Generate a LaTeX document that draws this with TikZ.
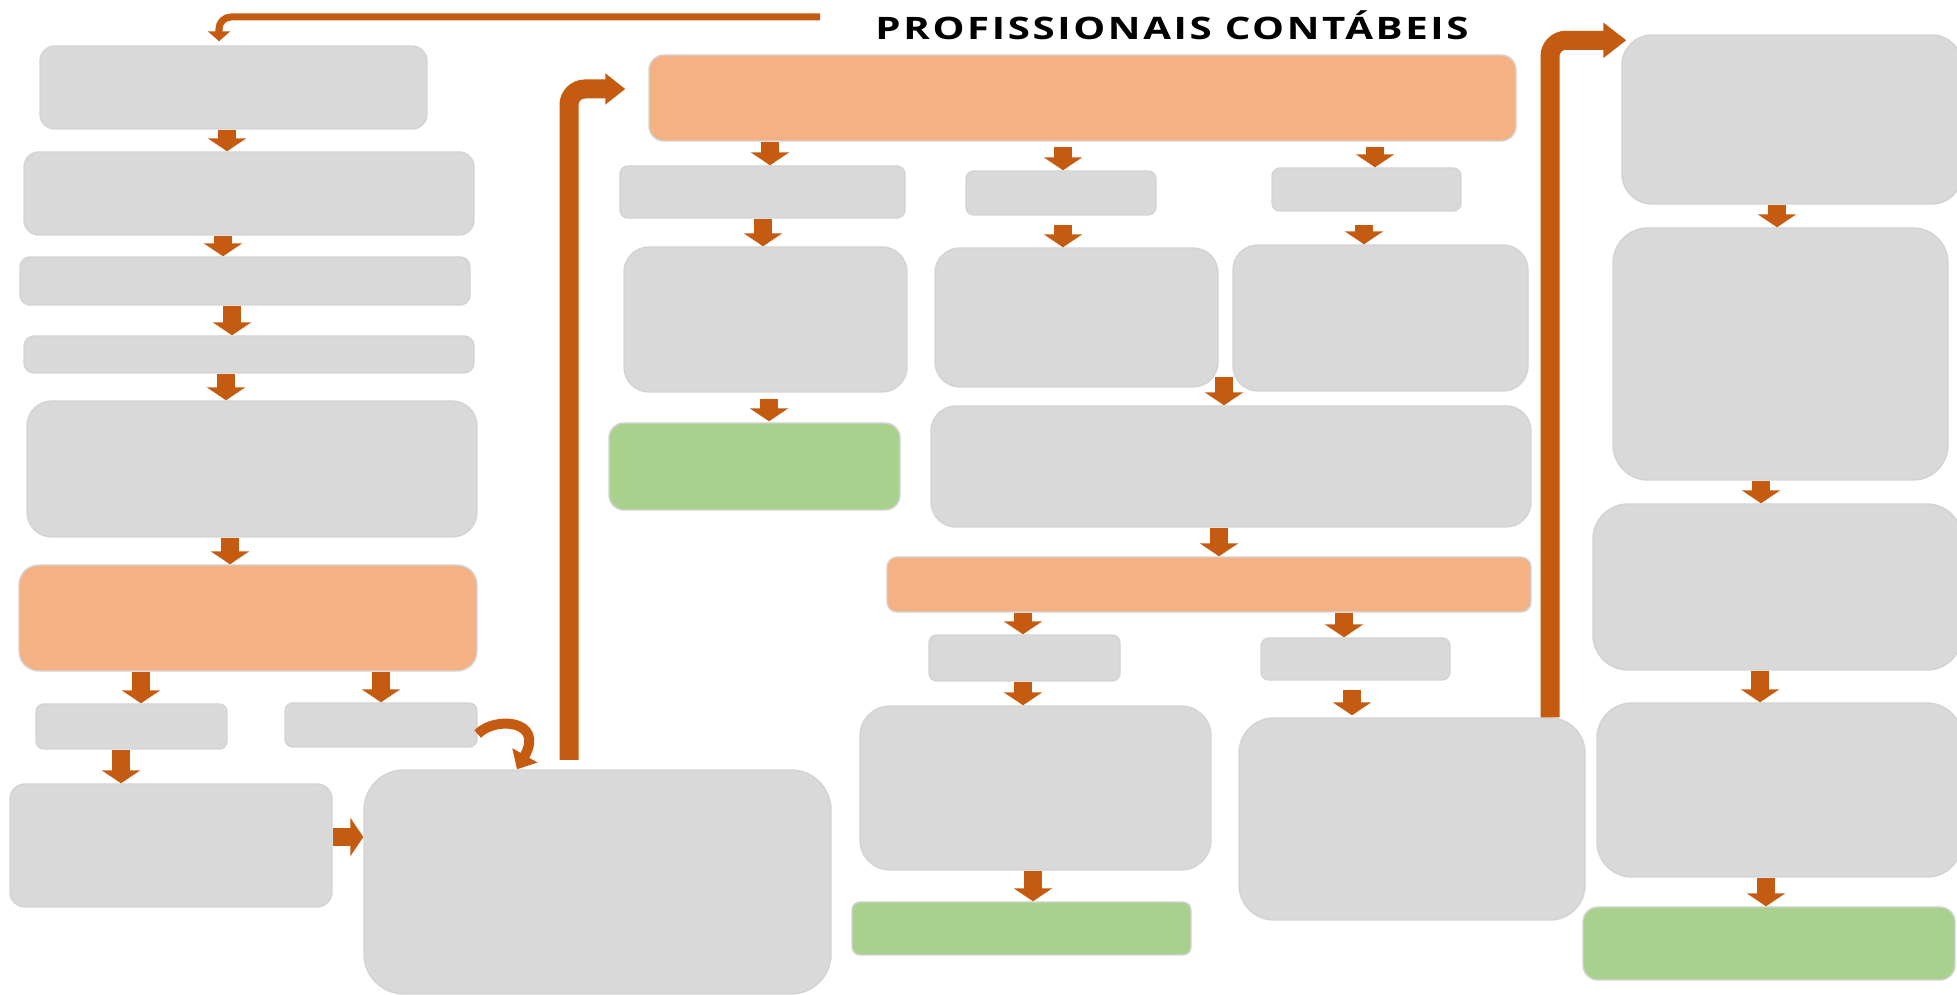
\documentclass[tikz,border=0pt]{standalone}
\usepackage{fontspec}
\setsansfont{Open Sans}
\usetikzlibrary{arrows.meta,fit}

\definecolor{boxgray}{HTML}{D9D9D9}
\definecolor{boxline}{HTML}{D3D3D3}
\definecolor{peach}{HTML}{F4B183}
\definecolor{leaf}{HTML}{A9D18E}
\definecolor{rust}{HTML}{C55A11}

\begin{document}
\begin{tikzpicture}[x=0.01cm,y=-0.01cm,
  gbox/.style={fill=boxgray,draw=boxline,line width=0.4pt,inner sep=0pt,rounded corners=#1},
  gbox/.default=0.1cm,
  obox/.style={gbox=#1,fill=peach},
  obox/.default=0.15cm,
  lbox/.style={gbox=#1,fill=leaf},
  lbox/.default=0.12cm,
  down/.style={draw=rust,line width=0.18cm,-{Triangle[width=0.38cm,length=0.13cm]}},
  bar/.style={draw=rust,line width=0.19cm,rounded corners=0.16cm},
  curl/.style={draw=rust,line width=0.1cm,-{Triangle[width=0.28cm,length=0.16cm]}}]
  \useasboundingbox (0,0) rectangle (1957,995);

  \node[anchor=base,inner sep=0pt,xscale=1.3,transform shape,
    font=\sffamily\bfseries\fontsize{8.8}{10}\selectfont\addfontfeatures{LetterSpace=6.5}]
    (title) at (1172,40) {PROFISSIONAIS CONTÁBEIS};

  % left column
  \node[gbox=0.15cm,fit={(40,46) (427,129)}] (l1) {};
  \node[gbox=0.15cm,fit={(24,152) (474,235)}] (l2) {};
  \node[gbox,fit={(20,257) (470,305)}] (l3) {};
  \node[gbox,fit={(24,336) (474,373)}] (l4) {};
  \node[gbox=0.25cm,fit={(27,401) (477,537)}] (l5) {};
  \node[obox=0.2cm,fit={(19,565) (477,671)}] (l6) {};
  \node[gbox=0.08cm,fit={(36,704) (227,749)}] (l7a) {};
  \node[gbox=0.08cm,fit={(285,703) (477,747)}] (l7b) {};
  \node[gbox=0.15cm,fit={(10,784) (332,907)}] (l8) {};
  \node[gbox=0.4cm,fit={(364,770) (831,994)}] (big) {};

  % middle block
  \node[obox,fit={(649,55) (1516,141)}] (ot) {};
  \node[gbox=0.08cm,fit={(620,166) (905,218)}] (m2a) {};
  \node[gbox=0.08cm,fit={(966,171) (1156,215)}] (m2b) {};
  \node[gbox=0.08cm,fit={(1272,168) (1461,211)}] (m2c) {};
  \node[gbox=0.25cm,fit={(624,247) (907,392)}] (m3a) {};
  \node[gbox=0.25cm,fit={(935,248) (1218,387)}] (m3b) {};
  \node[gbox=0.25cm,fit={(1233,245) (1528,391)}] (m3c) {};
  \node[lbox=0.15cm,fit={(609,423) (900,510)}] (mg1) {};
  \node[gbox=0.25cm,fit={(931,406) (1531,527)}] (mw) {};
  \node[obox=0.1cm,fit={(887,557) (1531,612)}] (o2) {};
  \node[gbox=0.08cm,fit={(929,635) (1120,681)}] (m5a) {};
  \node[gbox=0.08cm,fit={(1261,638) (1450,680)}] (m5b) {};
  \node[gbox=0.3cm,fit={(860,706) (1211,870)}] (m6a) {};
  \node[gbox=0.35cm,fit={(1239,718) (1585,920)}] (m6b) {};
  \node[lbox=0.08cm,fit={(852,902) (1191,955)}] (mg2) {};

  % right column
  \node[gbox=0.3cm,fit={(1622,35) (1962,204)}] (r1) {};
  \node[gbox=0.35cm,fit={(1613,228) (1948,480)}] (r2) {};
  \node[gbox=0.35cm,fit={(1593,504) (1962,670)}] (r3) {};
  \node[gbox=0.35cm,fit={(1597,703) (1962,877)}] (r4) {};
  \node[lbox=0.15cm,fit={(1583,907) (1955,980)}] (rg) {};

  % long connectors
  \coordinate (topstart) at (820,17);
  \coordinate (lfoot) at (569,760);
  \draw[draw=rust,line width=0.07cm,rounded corners=0.12cm,-{Triangle[width=0.22cm,length=0.1cm]},shorten >=0.04cm]
    (topstart) -| (l1.north -| 219,0);
  \draw[bar,-{Triangle[width=0.3cm,length=0.2cm]}]
    (lfoot) |- ([xshift=-0.23cm,yshift=0.09cm]ot.west);
  \draw[bar,-{Triangle[width=0.34cm,length=0.23cm]}]
    (m6b.north -| 1550,0) |- ([xshift=0.05cm,yshift=-0.06cm]r1.north west);
  \draw[curl] (l7b.east |- 0,734) .. controls (495,716) and (545,720) .. (big.north -| 517,0);
  \draw[down] (l8.east |- 0,837) -- (big.west |- 0,837);

  % short arrows, left
  \draw[down] (l1.south -| 227,0) -- (l2.north -| 227,0);
  \draw[down] (l2.south -| 223,0) -- (l3.north -| 223,0);
  \draw[down] (l3.south -| 232,0) -- (l4.north -| 232,0);
  \draw[down] (l4.south -| 226,0) -- (l5.north -| 226,0);
  \draw[down] (l5.south -| 230,0) -- (l6.north -| 230,0);
  \draw[down] (l6.south -| 141,0) -- (l7a.north -| 141,0);
  \draw[down] (l6.south -| 381,0) -- (l7b.north -| 381,0);
  \draw[down] (l7a.south -| 121,0) -- (l8.north -| 121,0);

  % short arrows, middle
  \draw[down] (ot.south -| 770,0) -- (m2a.north -| 770,0);
  \draw[down] ([yshift=-0.05cm]ot.south -| 1063,0) -- (m2b.north -| 1063,0);
  \draw[down] ([yshift=-0.05cm]ot.south -| 1375,0) -- (m2c.north -| 1375,0);
  \draw[down] (m2a.south -| 763,0) -- (m3a.north -| 763,0);
  \draw[down] ([yshift=-0.09cm]m2b.south -| 1063,0) -- (m3b.north -| 1063,0);
  \draw[down] ([yshift=-0.13cm]m2c.south -| 1364,0) -- (m3c.north -| 1364,0);
  \draw[down] ([yshift=-0.06cm]m3a.south -| 769,0) -- ([yshift=0.01cm]mg1.north -| 769,0);
  \draw[down] ([yshift=0.11cm]m3b.south -| 1224,0) -- (mw.north -| 1224,0);
  \draw[down] (mw.south -| 1219,0) -- (o2.north -| 1219,0);
  \draw[down] (o2.south -| 1023,0) -- (m5a.north -| 1023,0);
  \draw[down] (o2.south -| 1344,0) -- (m5b.north -| 1344,0);
  \draw[down] (m5a.south -| 1023,0) -- (m6a.north -| 1023,0);
  \draw[down] ([yshift=-0.09cm]m5b.south -| 1352,0) -- ([yshift=0.02cm]m6b.north -| 1352,0);
  \draw[down] (m6a.south -| 1033,0) -- (mg2.north -| 1033,0);

  % short arrows, right
  \draw[down] (r1.south -| 1777,0) -- (r2.north -| 1777,0);
  \draw[down] (r2.south -| 1761,0) -- (r3.north -| 1761,0);
  \draw[down] (r3.south -| 1760,0) -- (r4.north -| 1760,0);
  \draw[down] (r4.south -| 1766,0) -- (rg.north -| 1766,0);
\end{tikzpicture}
\end{document}
